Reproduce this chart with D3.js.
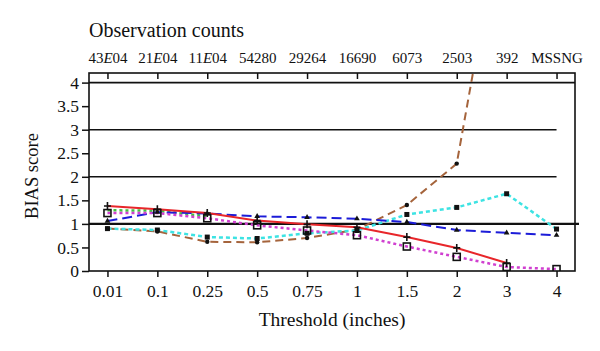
<!DOCTYPE html>
<html>
<head>
  <script src="https://cdn.jsdelivr.net/npm/d3@7"></script>
  <style>
    body { margin: 0; background: #fff; }
  </style>
</head>
<body>
  <svg width="600" height="351" id="mainsvg"></svg>
  <script>
    const thresholds = ['0.01', '0.1', '0.25', '0.5', '0.75', '1', '1.5', '2', '3', '4'];
    const counts = ['43E04', '21E04', '11E04', '54280', '29264', '16690', '6073', '2503', '392', 'MSSNG'];

    // BIAS scores per threshold (null = not drawn / hidden)
    const redVals     = [1.38, 1.31, 1.23, 1.07, 0.99, 0.93, 0.72, 0.49, 0.17, null];
    const blueVals    = [1.06, 1.25, 1.22, 1.16, 1.14, 1.11, 1.04, 0.87, 0.81, 0.76];
    const greenVals   = [1.29, 1.28, 1.16, null, null, null, null, null, null, null];
    const magentaVals = [1.23, 1.23, 1.12, 0.97, 0.86, 0.76, 0.52, 0.30, 0.085, 0.04];
    const cyanVals    = [0.90, 0.87, 0.72, 0.69, 0.80, 0.86, 1.20, 1.35, 1.64, 0.89];
    const brownVals   = [0.90, 0.84, 0.62, 0.61, 0.70, 0.88, 1.40, 2.28, 8.2, null];

    const yTicks = [0, 0.5, 1, 1.5, 2, 2.5, 3, 3.5, 4];
    const gridVals = [1, 2, 3, 4];

    const series = [
      { name: 'green', values: greenVals, color: '#3fc43f', dash: '3,3', width: 2.5, marker: 'none' },
      { name: 'brown', values: brownVals, color: '#a5643c', dash: '8,5', width: 2, marker: 'dot' },
      { name: 'cyan', values: cyanVals, color: '#3de3e3', dash: '4,3', width: 2.5, marker: 'square' },
      { name: 'blue', values: blueVals, color: '#1c1cd8', dash: '10,5', width: 2, marker: 'triangle' },
      { name: 'magenta', values: magentaVals, color: '#d040d0', dash: '3,3', width: 2.5, marker: 'open' },
      { name: 'red', values: redVals, color: '#e8262a', dash: null, width: 2, marker: 'plus' }
    ];

    const serif = '"Liberation Serif", "DejaVu Serif", serif';
    const svg = d3.select('#mainsvg');
    const margin = { top: 73, right: 25, bottom: 80, left: 89 };
    const innerWidth = 600 - margin.left - margin.right;
    const innerHeight = 271 - margin.top;
    const g = svg.append('g').attr('transform', `translate(${margin.left}, ${margin.top})`);

    const xScale = d3.scalePoint().domain(thresholds).range([0, innerWidth]).padding(0.37);
    const yScale = d3.scaleLinear().domain([0, 4]).range([innerHeight, innerHeight - 4 * 47.1]);

    svg.append('defs').append('clipPath').attr('id', 'clip')
      .append('rect').attr('width', innerWidth).attr('height', innerHeight);

    // horizontal reference lines (the 2 and 3 lines stop at the last category, the 1 line runs a bit past the frame)
    const lastX = xScale(thresholds[thresholds.length - 1]);
    g.selectAll('.grid').data(gridVals).join('line').attr('class', 'grid')
      .attr('x1', 0)
      .attr('x2', d => d === 1 ? innerWidth + 4 : (d === 4 ? innerWidth : lastX))
      .attr('y1', d => yScale(d)).attr('y2', d => yScale(d))
      .attr('stroke', '#111').attr('stroke-width', d => d === 1 ? 2.2 : 1.6);

    // bottom axis
    const xAxis = g.append('g').attr('transform', `translate(0, ${innerHeight})`)
      .call(d3.axisBottom(xScale).tickSize(6).tickPadding(8));
    xAxis.attr('font-family', serif).attr('font-size', 17.5);
    xAxis.select('.domain').remove();
    xAxis.selectAll('line').attr('stroke', '#111').attr('stroke-width', 1.5);
    xAxis.selectAll('text').attr('fill', '#111');

    // top axis with observation counts
    const topAxis = g.append('g')
      .call(d3.axisTop(xScale).tickSize(-6).tickPadding(10).tickFormat((d, i) => counts[i]));
    topAxis.attr('font-family', serif).attr('font-size', 15);
    topAxis.select('.domain').remove();
    topAxis.selectAll('line').attr('stroke', '#111').attr('stroke-width', 1.5);
    topAxis.selectAll('text').attr('fill', '#111')
      .each(function (d, i) {
        const t = d3.select(this);
        const lbl = counts[i];
        if (lbl.includes('E')) {
          const [a, b] = lbl.split('E');
          t.text(null);
          t.append('tspan').text(a);
          t.append('tspan').attr('font-style', 'italic').text('E');
          t.append('tspan').text(b);
        }
      });

    // left axis
    const yAxis = g.append('g')
      .call(d3.axisLeft(yScale).tickValues(yTicks).tickSize(7).tickPadding(3).tickFormat(d3.format('')));
    yAxis.attr('font-family', serif).attr('font-size', 17.5);
    yAxis.select('.domain').remove();
    yAxis.selectAll('line').attr('stroke', '#111').attr('stroke-width', 1.5);
    yAxis.selectAll('text').attr('fill', '#111');

    // series lines
    const plot = g.append('g').attr('clip-path', 'url(#clip)');
    const line = d3.line()
      .defined(d => d != null)
      .x((d, i) => xScale(thresholds[i]))
      .y(d => yScale(d));

    series.forEach(s => {
      plot.append('path').datum(s.values)
        .attr('fill', 'none')
        .attr('stroke', s.color)
        .attr('stroke-width', s.width)
        .attr('stroke-dasharray', s.dash)
        .attr('d', line);
    });

    // markers
    series.forEach(s => {
      if (s.marker === 'none') return;
      const pts = s.values.map((v, i) => ({ v, x: xScale(thresholds[i]) }))
        .filter(p => p.v != null && p.v <= 4.2);
      const mg = plot.append('g');
      pts.forEach(p => {
        const x = p.x, y = yScale(p.v);
        if (s.marker === 'dot') {
          mg.append('circle').attr('cx', x).attr('cy', y).attr('r', 2.2).attr('fill', '#111');
        } else if (s.marker === 'square') {
          mg.append('rect').attr('x', x - 2.5).attr('y', y - 2.5).attr('width', 5).attr('height', 5).attr('fill', '#111');
        } else if (s.marker === 'triangle') {
          mg.append('path').attr('d', d3.symbol(d3.symbolTriangle, 14)()).attr('transform', `translate(${x},${y})`).attr('fill', '#111');
        } else if (s.marker === 'open') {
          mg.append('rect').attr('x', x - 3.5).attr('y', y - 3.5).attr('width', 7).attr('height', 7)
            .attr('fill', 'none').attr('stroke', '#111').attr('stroke-width', 1.6);
        } else if (s.marker === 'plus') {
          mg.append('path').attr('d', `M${x - 3.5},${y}H${x + 3.5}M${x},${y - 4}V${y + 4}`)
            .attr('stroke', '#111').attr('stroke-width', 1.6);
        }
      });
    });

    // frame
    g.append('rect').attr('width', innerWidth).attr('height', innerHeight)
      .attr('fill', 'none').attr('stroke', '#111').attr('stroke-width', 1.6);

    // titles
    svg.append('text').attr('x', 89).attr('y', 37).attr('font-family', serif)
      .attr('font-size', 20).attr('fill', '#111').text('Observation counts');
    svg.append('text').attr('x', margin.left + innerWidth / 2).attr('y', 326).attr('font-family', serif)
      .attr('text-anchor', 'middle').attr('font-size', 19.5).attr('fill', '#111').text('Threshold (inches)');
    svg.append('text').attr('transform', 'translate(38, 176) rotate(-90)').attr('font-family', serif)
      .attr('text-anchor', 'middle').attr('font-size', 18.5).attr('fill', '#111').text('BIAS score');
  </script>
</body>
</html>
